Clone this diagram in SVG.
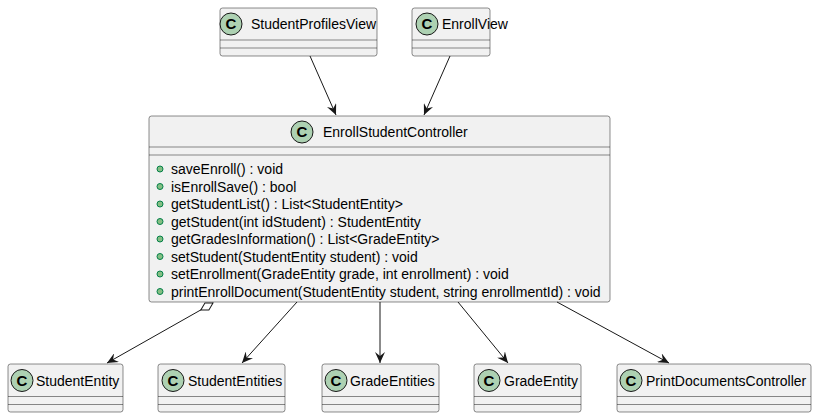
<svg xmlns="http://www.w3.org/2000/svg" width="817" height="418" viewBox="0 0 817 418">
  <style>
    .box { fill: #F1F1F1; stroke: #181818; stroke-width: 0.5; }
    .sep { stroke: #181818; stroke-width: 0.5; }
    .icon { fill: #ADD1B2; stroke: #181818; stroke-width: 1; }
    .ic { font-family: "Liberation Sans", Arial, sans-serif; font-size: 15px; font-weight: bold; fill: #000; text-anchor: middle; }
    .name { font-family: "Liberation Sans", Arial, sans-serif; font-size: 14px; fill: #000; }
    .m { font-family: "Liberation Sans", Arial, sans-serif; font-size: 14px; fill: #000; }
    .dot { fill: #84BE84; stroke: #038048; stroke-width: 1; }
    .edge { stroke: #181818; stroke-width: 1; fill: none; }
  </style>
  <defs>
    <marker id="arrow" viewBox="0 0 12 10" refX="11" refY="5" markerWidth="12" markerHeight="10" markerUnits="userSpaceOnUse" orient="auto">
      <path d="M0,0 L11,5 L0,10 L4,5 Z" fill="#181818"/>
    </marker>
    <marker id="diamond" viewBox="0 0 16 10" refX="1" refY="5" markerWidth="16" markerHeight="10" markerUnits="userSpaceOnUse" orient="auto">
      <path d="M1,5 L8,1 L15,5 L8,9 Z" fill="#FFFFFF" stroke="#181818" stroke-width="1"/>
    </marker>
  </defs>

  <g id="StudentProfilesView">
    <rect class="box" x="220" y="8" width="157" height="48" rx="2.5"/>
    <line class="sep" x1="220" y1="40" x2="377" y2="40"/>
    <line class="sep" x1="220" y1="48" x2="377" y2="48"/>
    <circle class="icon" cx="231" cy="24" r="11"/>
    <text class="ic" x="231" y="29">C</text>
    <text class="name" x="251" y="29">StudentProfilesView</text>
  </g>

  <g id="EnrollView">
    <rect class="box" x="412" y="8" width="78" height="48" rx="2.5"/>
    <line class="sep" x1="412" y1="40" x2="490" y2="40"/>
    <line class="sep" x1="412" y1="48" x2="490" y2="48"/>
    <circle class="icon" cx="427" cy="24" r="11"/>
    <text class="ic" x="427" y="29">C</text>
    <text class="name" x="442" y="29">EnrollView</text>
  </g>

  <g id="EnrollStudentController">
    <rect class="box" x="149" y="116" width="461" height="186" rx="2.5"/>
    <line class="sep" x1="149" y1="147" x2="610" y2="147"/>
    <line class="sep" x1="149" y1="155" x2="610" y2="155"/>
    <circle class="icon" cx="302" cy="132" r="11"/>
    <text class="ic" x="302" y="137">C</text>
    <text class="name" x="323" y="137">EnrollStudentController</text>
    <circle class="dot" cx="160" cy="169" r="3"/>
    <text class="m" x="171" y="174">saveEnroll() : void</text>
    <circle class="dot" cx="160" cy="186.5" r="3"/>
    <text class="m" x="171" y="191.5">isEnrollSave() : bool</text>
    <circle class="dot" cx="160" cy="204" r="3"/>
    <text class="m" x="171" y="209">getStudentList() : List&lt;StudentEntity&gt;</text>
    <circle class="dot" cx="160" cy="221.5" r="3"/>
    <text class="m" x="171" y="226.5">getStudent(int idStudent) : StudentEntity</text>
    <circle class="dot" cx="160" cy="239" r="3"/>
    <text class="m" x="171" y="244">getGradesInformation() : List&lt;GradeEntity&gt;</text>
    <circle class="dot" cx="160" cy="256.5" r="3"/>
    <text class="m" x="171" y="261.5">setStudent(StudentEntity student) : void</text>
    <circle class="dot" cx="160" cy="274" r="3"/>
    <text class="m" x="171" y="279">setEnrollment(GradeEntity grade, int enrollment) : void</text>
    <circle class="dot" cx="160" cy="291.5" r="3"/>
    <text class="m" x="171" y="296.5">printEnrollDocument(StudentEntity student, string enrollmentId) : void</text>
  </g>

  <g id="StudentEntity">
    <rect class="box" x="8" y="364" width="115" height="48" rx="2.5"/>
    <line class="sep" x1="8" y1="396.5" x2="123" y2="396.5"/>
    <line class="sep" x1="8" y1="404.5" x2="123" y2="404.5"/>
    <circle class="icon" cx="22" cy="380.5" r="11"/>
    <text class="ic" x="22" y="385.5">C</text>
    <text class="name" x="36" y="385.5">StudentEntity</text>
  </g>

  <g id="StudentEntities">
    <rect class="box" x="158" y="364" width="127" height="48" rx="2.5"/>
    <line class="sep" x1="158" y1="396.5" x2="285" y2="396.5"/>
    <line class="sep" x1="158" y1="404.5" x2="285" y2="404.5"/>
    <circle class="icon" cx="173" cy="380.5" r="11"/>
    <text class="ic" x="173" y="385.5">C</text>
    <text class="name" x="188" y="385.5">StudentEntities</text>
  </g>

  <g id="GradeEntities">
    <rect class="box" x="322" y="364" width="117" height="48" rx="2.5"/>
    <line class="sep" x1="322" y1="396.5" x2="439" y2="396.5"/>
    <line class="sep" x1="322" y1="404.5" x2="439" y2="404.5"/>
    <circle class="icon" cx="336" cy="380.5" r="11"/>
    <text class="ic" x="336" y="385.5">C</text>
    <text class="name" x="350" y="385.5">GradeEntities</text>
  </g>

  <g id="GradeEntity">
    <rect class="box" x="474" y="364" width="107" height="48" rx="2.5"/>
    <line class="sep" x1="474" y1="396.5" x2="581" y2="396.5"/>
    <line class="sep" x1="474" y1="404.5" x2="581" y2="404.5"/>
    <circle class="icon" cx="489" cy="380.5" r="11"/>
    <text class="ic" x="489" y="385.5">C</text>
    <text class="name" x="504" y="385.5">GradeEntity</text>
  </g>

  <g id="PrintDocumentsController">
    <rect class="box" x="617" y="364" width="194" height="48" rx="2.5"/>
    <line class="sep" x1="617" y1="396.5" x2="811" y2="396.5"/>
    <line class="sep" x1="617" y1="404.5" x2="811" y2="404.5"/>
    <circle class="icon" cx="631" cy="380.5" r="11"/>
    <text class="ic" x="631" y="385.5">C</text>
    <text class="name" x="646" y="385.5">PrintDocumentsController</text>
  </g>

  <g id="connectors">
    <line class="edge" x1="310" y1="56" x2="336" y2="115" marker-end="url(#arrow)"/>
    <line class="edge" x1="450" y1="56" x2="424" y2="115" marker-end="url(#arrow)"/>
    <line class="edge" x1="213" y1="303" x2="107" y2="363" marker-start="url(#diamond)" marker-end="url(#arrow)"/>
    <line class="edge" x1="297" y1="302" x2="242" y2="363" marker-end="url(#arrow)"/>
    <line class="edge" x1="380" y1="302" x2="380" y2="363" marker-end="url(#arrow)"/>
    <line class="edge" x1="458" y1="302" x2="508" y2="363" marker-end="url(#arrow)"/>
    <line class="edge" x1="557" y1="302" x2="669" y2="363" marker-end="url(#arrow)"/>
  </g>
</svg>
